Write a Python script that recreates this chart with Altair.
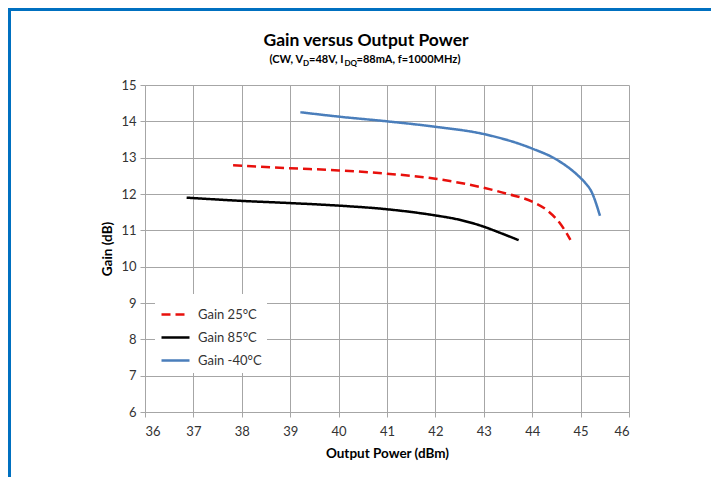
import altair as alt
import pandas as pd

# ---- data ----
series_names = ["Gain 25°C", "Gain 85°C", "Gain -40°C"]
series_colors = ["#E8100C", "#000000", "#4A7EBB"]

red_x = [37.82, 39.0, 40.0, 41.0, 42.0, 43.0, 43.5, 44.0, 44.3, 44.57, 44.79]
red_y = [12.79, 12.71, 12.65, 12.56, 12.42, 12.17, 12.0, 11.79, 11.56, 11.2, 10.74]

black_x = [36.86, 38.0, 39.0, 40.0, 41.0, 42.0, 42.5, 43.0, 43.3, 43.72]
black_y = [11.9, 11.81, 11.75, 11.68, 11.58, 11.41, 11.29, 11.1, 10.95, 10.73]

blue_x = [39.21, 40.0, 41.0, 42.0, 43.0, 44.0, 44.5, 45.0, 45.1, 45.23, 45.4]
blue_y = [14.25, 14.13, 14.0, 13.85, 13.65, 13.25, 12.95, 12.44, 12.3, 12.05, 11.4]

x_ticks = [36, 37, 38, 39, 40, 41, 42, 43, 44, 45, 46]
y_ticks = [6, 7, 8, 9, 10, 11, 12, 13, 14, 15]

rows = []
for name, xs, ys in zip(series_names, [red_x, black_x, blue_x], [red_y, black_y, blue_y]):
    for i, (xv, yv) in enumerate(zip(xs, ys)):
        rows.append({"series": name, "x": xv, "y": yv, "order": i})
df = pd.DataFrame(rows)

FONT = "Lato"
W, H = 484, 327
PAD_L, PAD_T = 137, 77
TOTAL_W, TOTAL_H = 703, 469

lines = alt.Chart(df).mark_line(strokeWidth=2.5, interpolate="monotone").encode(
    x=alt.X("x:Q", scale=alt.Scale(domain=[36, 46], nice=False),
            axis=alt.Axis(values=x_ticks, title="Output Power (dBm)", format="d")),
    y=alt.Y("y:Q", scale=alt.Scale(domain=[6, 15], nice=False),
            axis=alt.Axis(values=y_ticks, title="Gain (dB)", format="d")),
    color=alt.Color("series:N",
                    scale=alt.Scale(domain=series_names, range=series_colors),
                    legend=alt.Legend(title=None, orient="none", legendX=10, legendY=209,
                                      symbolType="stroke", symbolSize=784,
                                      symbolStrokeWidth=2.5, labelFontSize=13,
                                      labelFont=FONT, labelColor="#333333",
                                      labelOffset=7, rowPadding=-4,
                                      fillColor="white", padding=5)),
    strokeDash=alt.StrokeDash("series:N",
                              scale=alt.Scale(domain=series_names, range=[[9, 5], [1, 0], [1, 0]]),
                              legend=alt.Legend(title=None, orient="none", legendX=10, legendY=209)),
    order="order:Q",
    detail="series:N",
)

one = pd.DataFrame({"k": [0]})

def txt(text, x, y, size, align="left", weight="bold"):
    return alt.Chart(one).mark_text(text=text, font=FONT, fontSize=size, fontWeight=weight,
                                     align=align, baseline="alphabetic", color="#000000").encode(
        x=alt.value(x), y=alt.value(y))

title_layers = [
    txt("Gain versus Output Power", 221, -39, 17.5, align="center"),
    txt("(CW, V", 124.5, -22, 11),
    txt("D", 158, -19.5, 8),
    txt("=48V, I", 164, -22, 11),
    txt("DQ", 199.5, -19.5, 8),
    txt("=88mA, f=1000MHz)", 211.5, -22, 11),
]

border_left = alt.Chart(one).mark_rule(color="#0070C0", strokeWidth=3).encode(
    x=alt.value(-PAD_L + 1.5), y=alt.value(-PAD_T), y2=alt.value(TOTAL_H - PAD_T))
border_top = alt.Chart(one).mark_rule(color="#0070C0", strokeWidth=3).encode(
    y=alt.value(-PAD_T + 1.5), x=alt.value(-PAD_L), x2=alt.value(TOTAL_W - PAD_L))

chart = alt.layer(lines, *title_layers, border_left, border_top).properties(
    width=W, height=H,
    autosize=alt.AutoSizeParams(type="none"),
    padding={"left": PAD_L, "top": PAD_T, "right": TOTAL_W - PAD_L - W, "bottom": TOTAL_H - PAD_T - H},
).configure_view(stroke=None).configure_axis(
    labelFont=FONT, labelFontSize=13, labelColor="#333333",
    titleFont=FONT, titleFontSize=13.5, titleFontWeight="bold", titleColor="#000000",
    gridColor="#A6A6A6", gridWidth=1, domainColor="#A6A6A6", tickColor="#A6A6A6",
    tickSize=5,
).configure_axisX(labelPadding=8, titlePadding=8).configure_axisY(
    labelPadding=4, titlePadding=6)

chart.save("out.html", embed_options={"renderer": "svg", "actions": False})
